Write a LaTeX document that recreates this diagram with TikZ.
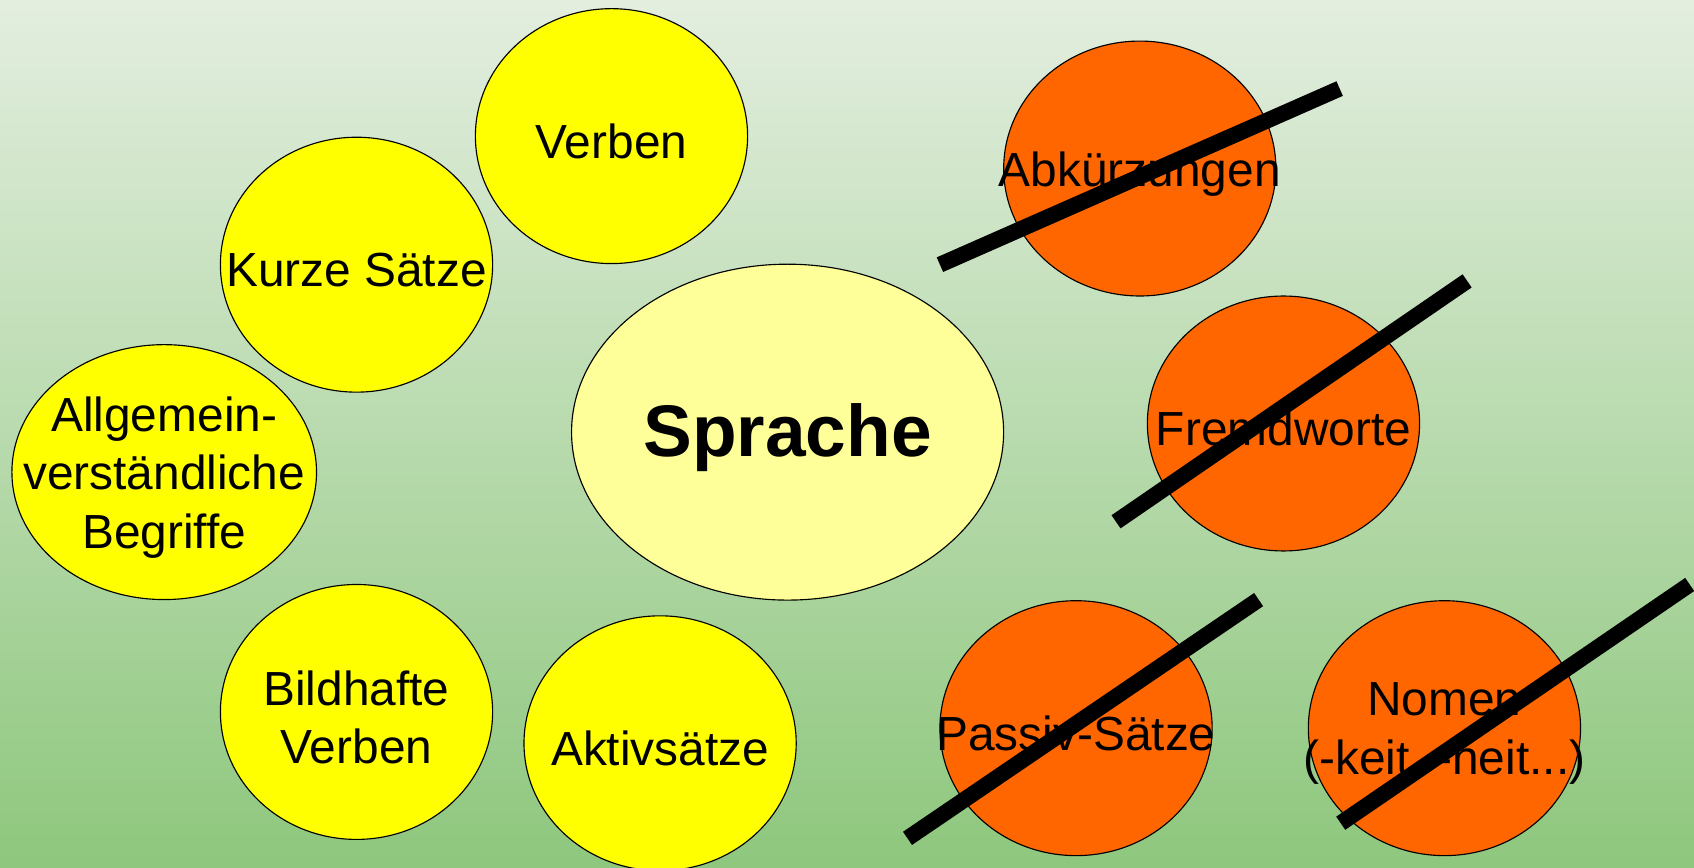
\documentclass[tikz,border=0pt]{standalone}
\usepackage{fontspec}
\setmainfont{Liberation Sans}
\usetikzlibrary{shapes.geometric}

\definecolor{bgtop}{HTML}{E3EEDF}
\definecolor{bgbottom}{HTML}{8EC77D}
\definecolor{good}{HTML}{FFFF00}
\definecolor{pale}{HTML}{FFFF99}
\definecolor{bad}{HTML}{FF6600}

\tikzset{
  bubble/.style={ellipse, draw, line width=0.6pt, inner sep=0pt,
    minimum width=5.04cm, minimum height=4.72cm, fill=good},
  lbl/.style={font=\fontsize{25.2}{31}\selectfont, align=center, inner sep=0pt, yshift=-0.1cm},
  nobubble/.style={bubble, fill=bad},
  strike/.style={line width=8.4pt, line cap=butt}
}

\begin{document}
\begin{tikzpicture}[x=0.02cm, y=-0.02cm]%
    \fill[top color=bgtop, bottom color=bgbottom] (0,0) rectangle (1568,803);
    \useasboundingbox (0,0) rectangle (1568,803);
    % the yes-side
    \node (verben) [bubble, label={[lbl]center:Verben}] at (566,126) {};
    \node (kurz) [bubble, label={[lbl]center:Kurze Sätze}] at (330,245) {};
    \node (allg) [bubble, minimum width=5.64cm,
        label={[lbl]center:Allgemein-\\verständliche\\Begriffe}] at (152,437) {};
    \node (bild) [bubble, label={[lbl]center:Bildhafte\\Verben}] at (330,659) {};
    \node (aktiv) [bubble, label={[lbl]center:Aktivsätze}] at (611,688) {};
    \node (sprache) [bubble, fill=pale, minimum width=8cm, minimum height=6.22cm,
        label={[lbl, font=\fontsize{38.5}{46}\selectfont\bfseries]center:Sprache}] at (729,400) {};
    % the no-side
    \node (abk) [nobubble, label={[lbl]center:Abkürzungen}] at (1055,156) {};
    \node (fremd) [nobubble, label={[lbl]center:Fremdworte}] at (1188,392) {};
    \node (passiv) [nobubble, label={[lbl]center:Passiv-Sätze}] at (996,674) {};
    \node (nomen) [nobubble, label={[lbl]center:Nomen\\(-keit, -heit...)}] at (1337,674) {};
    \draw[strike] (abk.center) ++(-185,89) -- ++(370,-163);
    \draw[strike] (fremd.center) ++(-155,91) -- ++(325,-223);
    \draw[strike] (passiv.center) ++(-156,102) -- ++(325,-221);
    \draw[strike] (nomen.center) ++(-96,88) -- ++(323,-221);
\end{tikzpicture}
\end{document}
